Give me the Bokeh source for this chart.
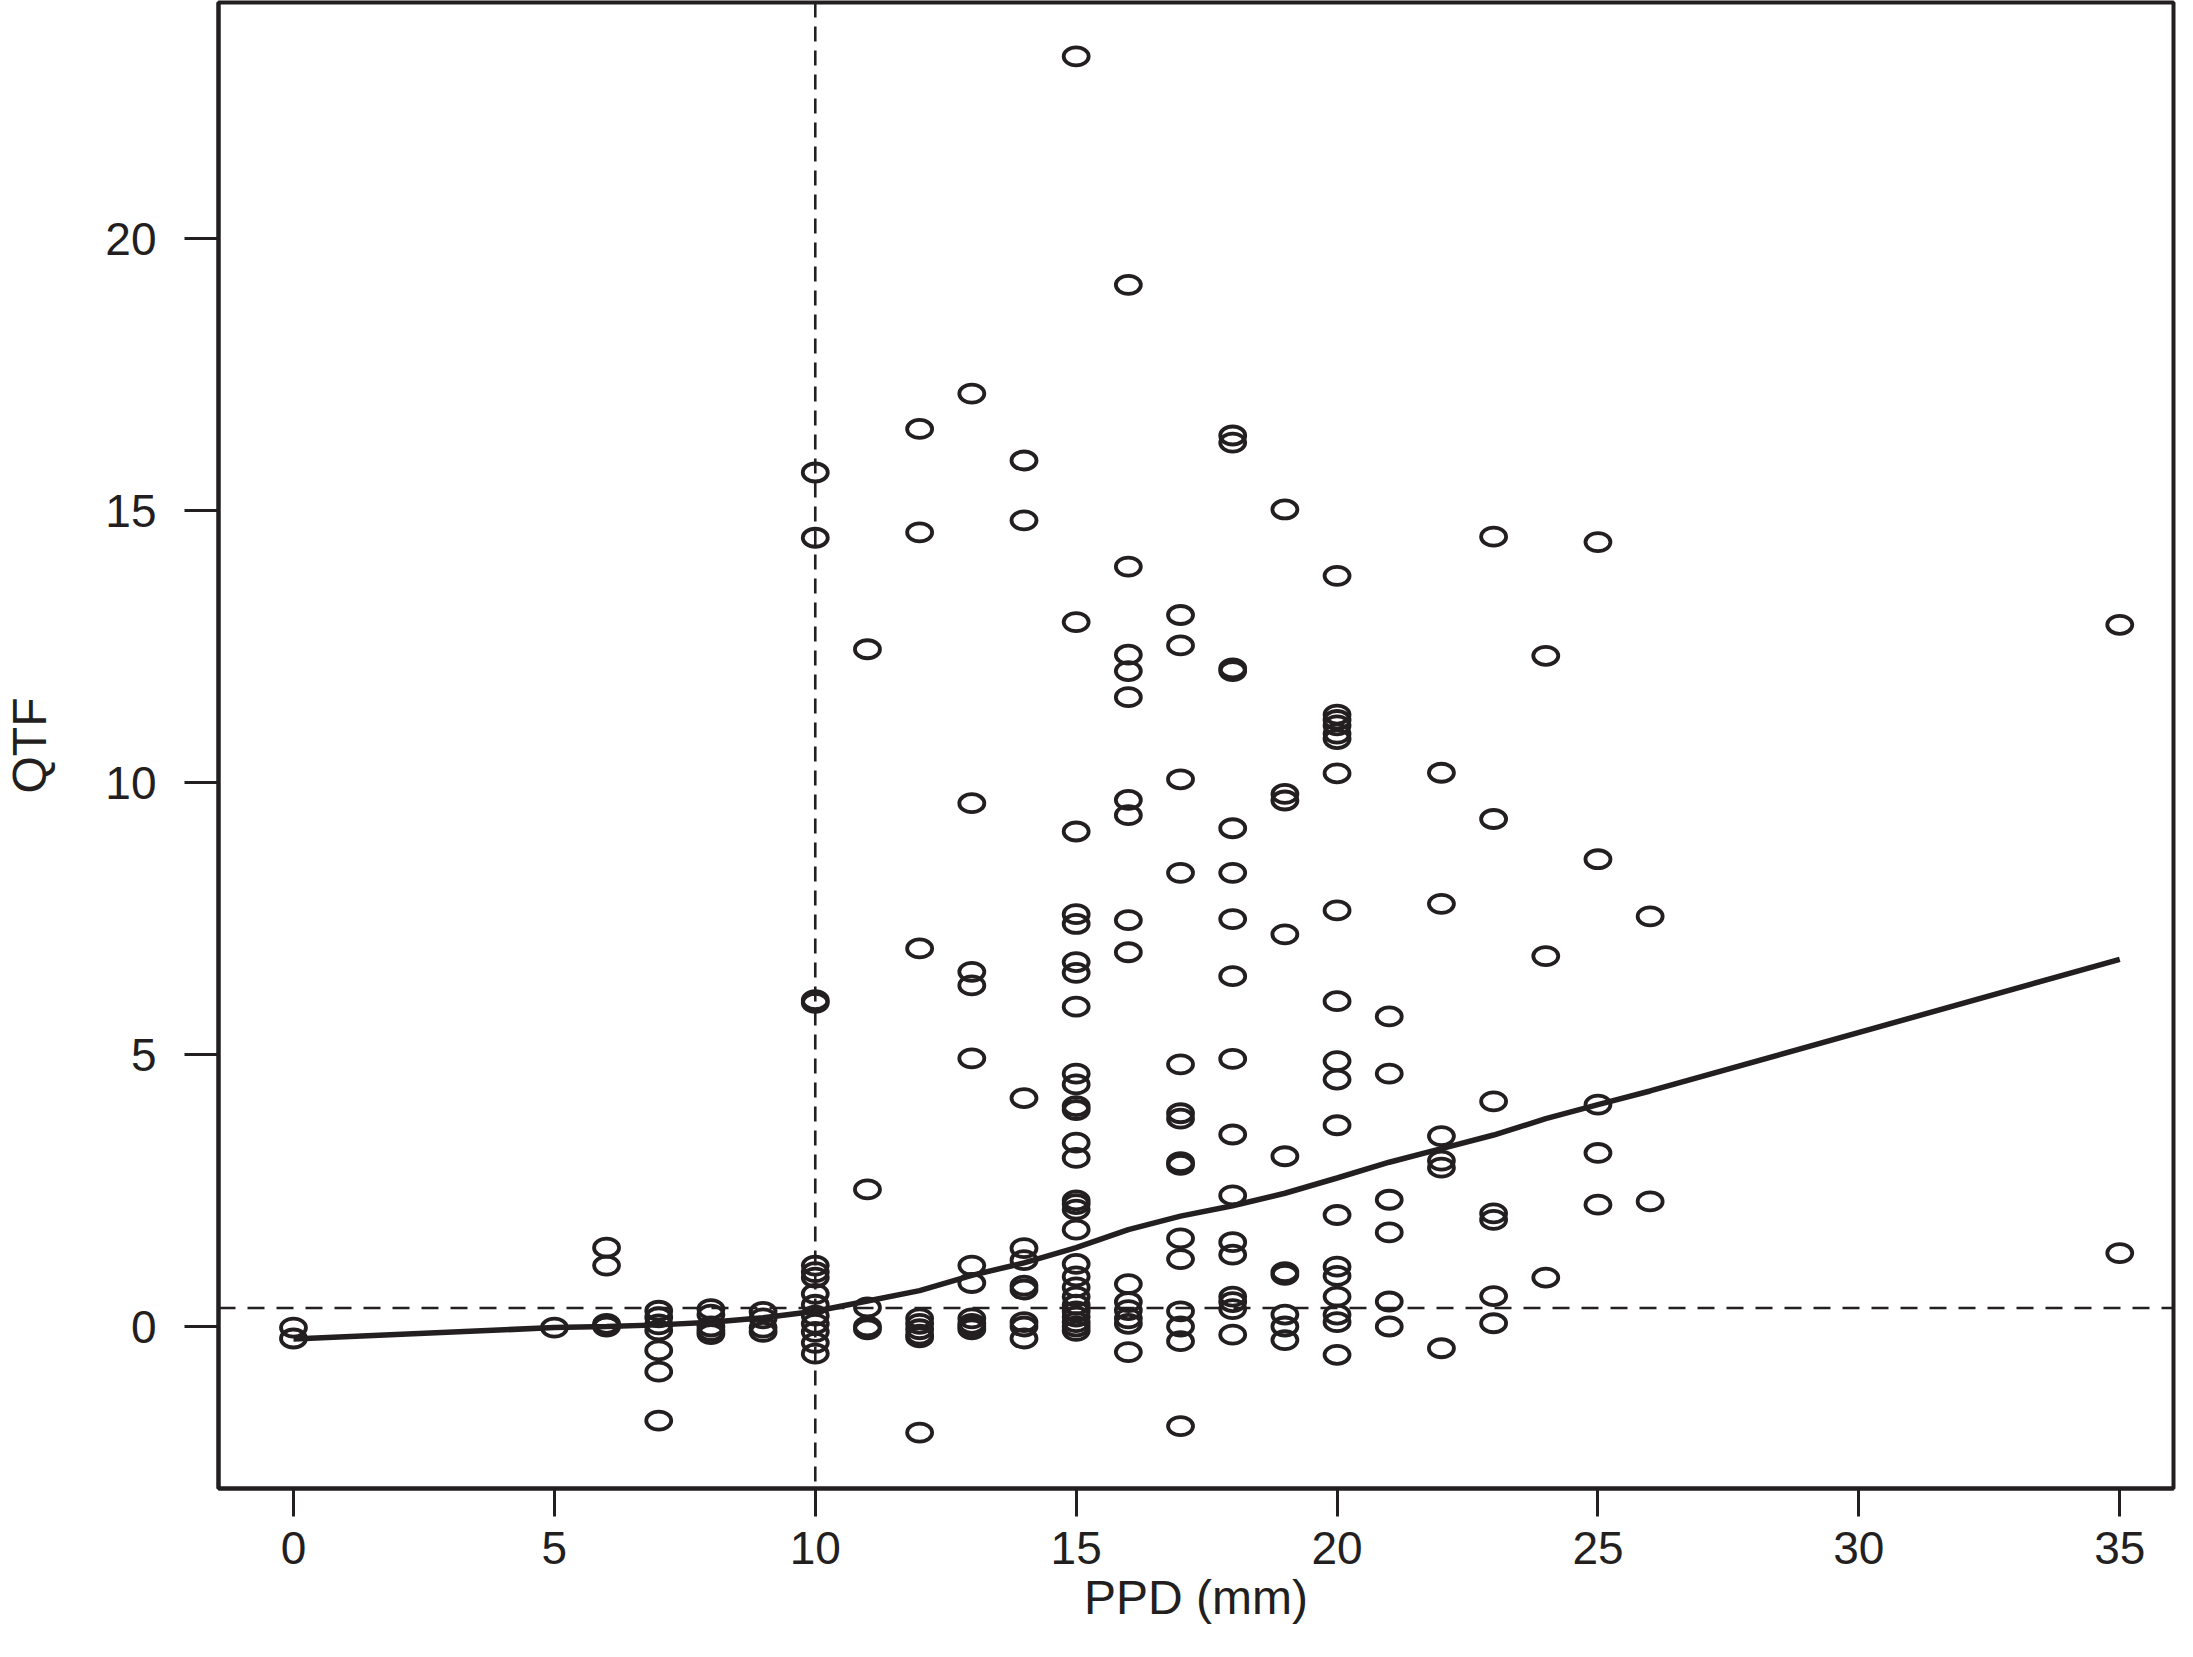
from bokeh.plotting import figure
from bokeh.models import FixedTicker, Span, Range1d, ColumnDataSource
from bokeh.embed import file_html
from bokeh.resources import INLINE

# ---- data ----
ppd_groups = [0, 5, 6, 7, 8, 9, 10, 11, 12, 13, 14, 15, 16, 17, 18, 19, 20, 21, 22, 23, 24, 25, 26, 35]
qtf_groups = [
    [-0.02, -0.22],
    [-0.02],
    [1.45, 1.12, 0.05, 0.0],
    [0.29, 0.17, 0.04, -0.07, -0.44, -0.83, -1.73],
    [0.32, 0.22, 0.0, -0.08, -0.14],
    [0.27, 0.15, -0.02, -0.1],
    [15.7, 14.5, 6.0, 5.95, 1.12, 1.0, 0.9, 0.6, 0.4, 0.2, 0.05, -0.1, -0.3, -0.5],
    [12.45, 2.52, 0.35, 0.0, -0.05],
    [16.5, 14.6, 6.95, 0.15, 0.05, -0.05, -0.15, -0.2, -1.95],
    [17.15, 9.62, 6.52, 6.27, 4.93, 1.12, 0.8, 0.15, 0.05, 0.0, -0.05],
    [15.92, 14.82, 4.2, 1.44, 1.22, 0.75, 0.68, 0.08, 0.0, -0.22],
    [23.35, 12.95, 9.1, 7.58, 7.4, 6.7, 6.5, 5.88, 4.65, 4.45, 4.05, 3.98, 3.38, 3.1,
     2.32, 2.25, 2.15, 1.78, 1.15, 0.92, 0.72, 0.55, 0.4, 0.28, 0.18, 0.08, 0.0, -0.08],
    [19.15, 13.97, 12.35, 12.05, 11.57, 9.68, 9.4, 7.47, 6.88, 0.78, 0.45, 0.3, 0.15, 0.05, -0.47],
    [13.08, 12.52, 10.06, 8.34, 4.82, 3.92, 3.82, 3.02, 2.97, 1.62, 1.24, 0.28, 0.0, -0.27, -1.83],
    [16.38, 16.25, 12.1, 12.05, 9.16, 8.34, 7.49, 6.44, 4.92, 3.53, 2.41, 1.55, 1.32, 0.55, 0.45, 0.32, -0.15],
    [15.02, 9.79, 9.67, 7.21, 3.13, 1.0, 0.95, 0.22, 0.0, -0.25],
    [13.8, 11.25, 11.15, 11.05, 10.9, 10.8, 10.17, 7.65, 5.98, 4.88, 4.54, 3.7, 2.05, 1.1, 0.93, 0.55, 0.22, 0.08, -0.52],
    [5.7, 4.65, 2.33, 1.73, 0.46, 0.0],
    [10.18, 7.77, 3.5, 3.05, 2.92, -0.4],
    [14.52, 9.33, 4.14, 2.08, 1.96, 0.56, 0.06],
    [12.33, 6.81, 0.9],
    [14.42, 8.59, 4.08, 3.19, 2.24],
    [7.54, 2.3],
    [12.9, 1.35],
]

smooth_x = [0, 5, 6, 7, 8, 9, 10, 11, 12, 13, 14, 15, 16, 17, 18, 19, 20, 21, 22, 23, 24, 25, 26, 35]
smooth_y = [-0.23, -0.02, 0.0, 0.03, 0.08, 0.16, 0.28, 0.47, 0.66, 0.94, 1.17, 1.45, 1.78, 2.03,
            2.22, 2.45, 2.73, 3.02, 3.27, 3.52, 3.82, 4.08, 4.33, 6.75]

qtf_cutoff = 0.34
ppd_cutoff = 10

x_ticks = [0, 5, 10, 15, 20, 25, 30, 35]
y_ticks = [0, 5, 10, 15, 20]

ppd = []
qtf = []
for g, vals in zip(ppd_groups, qtf_groups):
    for v in vals:
        ppd.append(g)
        qtf.append(v)

INK = "#231f20"
FONT = "Liberation Sans"

X_START, X_END = -1.437, 36.03
Y_START, Y_END = -2.978, 24.34

p = figure(width=2177, height=1641,
           x_range=Range1d(X_START, X_END), y_range=Range1d(Y_START, Y_END),
           output_backend="svg", toolbar_location=None,
           min_border_left=209, min_border_right=4, min_border_top=2, min_border_bottom=153,
           background_fill_color="white", border_fill_color="white")

p.xgrid.visible = False
p.ygrid.visible = False
p.outline_line_color = INK
p.outline_line_width = 4

for ax in (p.xaxis, p.yaxis):
    ax.axis_line_color = INK
    ax.axis_line_width = 4
    ax.major_tick_line_color = INK
    ax.major_tick_line_width = 3
    ax.major_tick_in = 0
    ax.minor_tick_line_color = None
    ax.major_label_text_font = FONT
    ax.major_label_text_font_size = "46px"
    ax.major_label_text_color = INK
    ax.axis_label_text_font = FONT
    ax.axis_label_text_font_size = "48px"
    ax.axis_label_text_font_style = "normal"
    ax.axis_label_text_color = INK

p.xaxis.ticker = FixedTicker(ticks=x_ticks)
p.yaxis.ticker = FixedTicker(ticks=y_ticks)
p.xaxis.major_tick_out = 28
p.yaxis.major_tick_out = 34
p.xaxis.major_label_standoff = 15
p.yaxis.major_label_standoff = 28
p.xaxis.axis_label = "PPD (mm)"
p.yaxis.axis_label = "QTF"
p.xaxis.axis_label_standoff = 4
p.yaxis.axis_label_standoff = 46

src = ColumnDataSource(data=dict(ppd=ppd, qtf=qtf))
p.ellipse(x="ppd", y="qtf", width=25, height=18, width_units="screen", height_units="screen",
          fill_color=None, line_color=INK, line_width=3.8, source=src)

p.line(smooth_x, smooth_y, line_color=INK, line_width=5.5)

p.add_layout(Span(location=qtf_cutoff, dimension="width", line_color=INK,
                  line_width=2.6, line_dash="17 12"))
p.add_layout(Span(location=ppd_cutoff, dimension="height", line_color=INK,
                  line_width=2.6, line_dash="15 9"))

open("out.html", "w").write(file_html(p, INLINE))
